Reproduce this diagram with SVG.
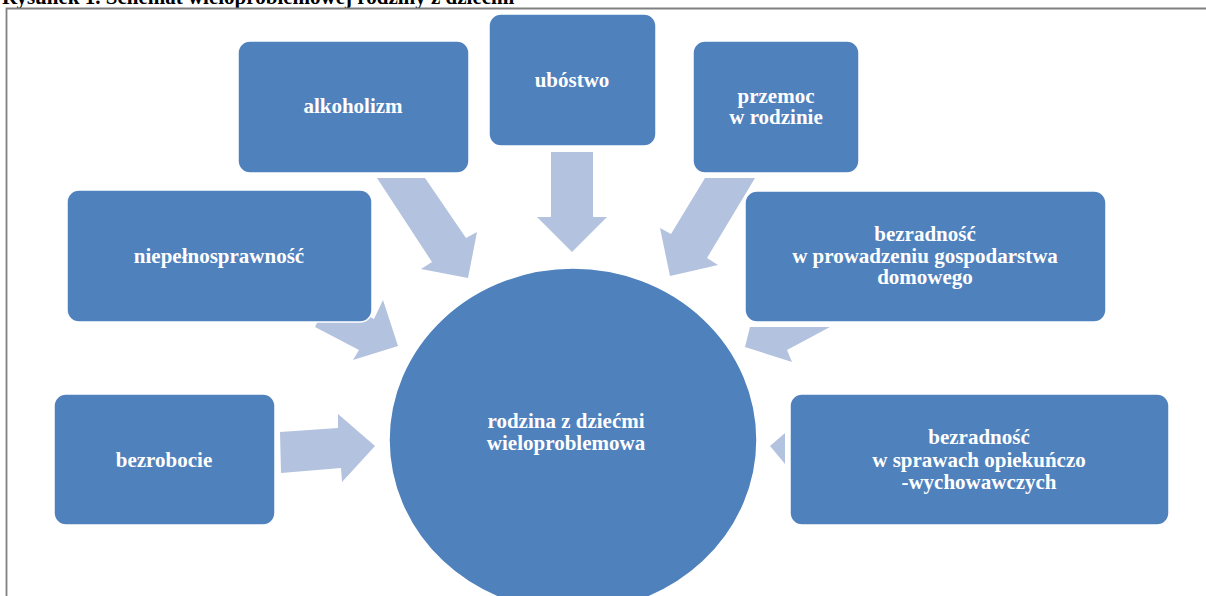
<svg xmlns="http://www.w3.org/2000/svg" width="1206" height="596" viewBox="0 0 1206 596">
<style>
.box{fill:#4F81BD;stroke:#FFFFFF;stroke-width:1.5}
.arr{fill:#B3C2DE}
.t{font-family:"Liberation Serif","Times New Roman",serif;font-weight:bold;font-size:21px;fill:#FFFFFF;text-anchor:middle}
.title{font-family:"Liberation Serif","Times New Roman",serif;font-weight:bold;font-size:21px;fill:#000000}
.frame{fill:none;stroke:#808080;stroke-width:1.8}
</style>
<rect width="1206" height="596" fill="#FFFFFF"/>
<text class="title" x="2" y="4">Rysunek 1. Schemat wieloproblemowej rodziny z dziećmi</text>
<path class="frame" d="M6.5,596 V8.5 H1206"/>
<g id="connectors">
<polygon class="arr" points="280,432 338,428 338,414 375,446 342,482 341,468 281,473"/>
<polygon class="arr" points="330,296 374,319 383,300 398,346 353,360 359,350 315,327"/>
<polygon class="arr" points="377,178 425,178 466,238 477,232 468,278 421,269 432,262"/>
<polygon class="arr" points="551,152 593,152 593,217 607,217 572,252 537,217 551,217"/>
<polygon class="arr" points="705,178 755,178 707,258 718,265 670,276 660,228 671,234"/>
<polygon class="arr" points="750,327 830,327 787,350 792,362 745,347"/>
<polygon class="arr" points="785,433 770,446 785,464"/>
</g>
<g id="alkoholizm"><rect class="box" x="238" y="41" width="231" height="132" rx="12"/><text class="t" x="353" y="113">alkoholizm</text></g>
<g id="ubostwo"><rect class="box" x="489" y="14" width="167" height="132" rx="12"/><text class="t" x="572" y="87">ubóstwo</text></g>
<g id="przemoc"><rect class="box" x="693" y="41" width="166" height="132" rx="12"/><text class="t" x="776" y="103">przemoc</text><text class="t" x="776" y="124">w rodzinie</text></g>
<g id="gospodarstwo"><rect class="box" x="745" y="191" width="361" height="131" rx="12"/><text class="t" x="925" y="241">bezradność</text><text class="t" x="925" y="263">w prowadzeniu gospodarstwa</text><text class="t" x="925" y="284">domowego</text></g>
<g id="niepelnosprawnosc"><rect class="box" x="67" y="190" width="305" height="132" rx="12"/><text class="t" x="219" y="263">niepełnosprawność</text></g>
<g id="bezrobocie"><rect class="box" x="54" y="394" width="221" height="131" rx="12"/><text class="t" x="164" y="467">bezrobocie</text></g>
<g id="opiekunczo"><rect class="box" x="790" y="394" width="379" height="131" rx="12"/><text class="t" x="979" y="444">bezradność</text><text class="t" x="979" y="467">w sprawach opiekuńczo</text><text class="t" x="979" y="489">-wychowawczych</text></g>
<g id="rodzina"><ellipse class="box" cx="573" cy="440" rx="184" ry="172"/><text class="t" x="566" y="428">rodzina z dziećmi</text><text class="t" x="566" y="450">wieloproblemowa</text></g>
</svg>
